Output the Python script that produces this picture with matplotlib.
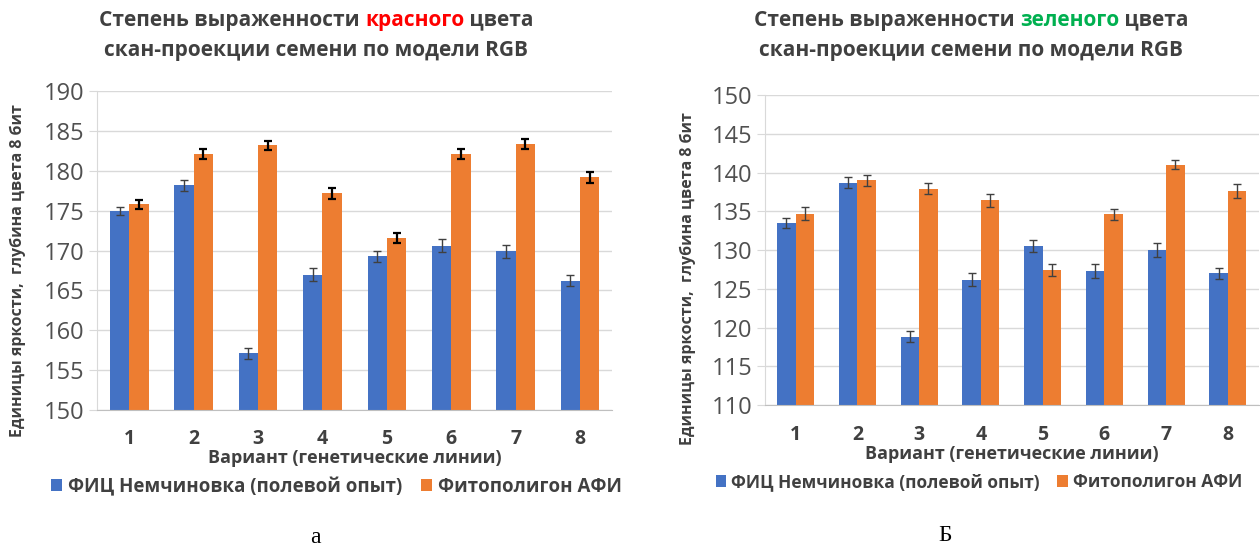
import numpy as np
import matplotlib
matplotlib.use("Agg")
import matplotlib.pyplot as plt
from matplotlib.offsetbox import TextArea, HPacker, AnchoredOffsetbox

plt.rcParams['font.family'] = ['Open Sans', 'DejaVu Sans']

# данные
variants = ['1', '2', '3', '4', '5', '6', '7', '8']
series_names = ['ФИЦ Немчиновка (полевой опыт)', 'Фитополигон АФИ']

red_field = [175.0, 178.2, 157.1, 167.0, 169.3, 170.6, 169.9, 166.2]
red_field_err = [0.5, 0.7, 0.7, 0.8, 0.7, 0.8, 0.8, 0.7]
red_afi = [175.8, 182.1, 183.2, 177.2, 171.6, 182.1, 183.4, 179.2]
red_afi_err = [0.6, 0.6, 0.6, 0.7, 0.6, 0.6, 0.6, 0.7]

green_field = [133.5, 138.7, 118.8, 126.2, 130.5, 127.3, 130.0, 127.0]
green_field_err = [0.7, 0.7, 0.7, 0.8, 0.8, 0.9, 0.9, 0.7]
green_afi = [134.7, 139.0, 137.9, 136.4, 127.4, 134.6, 141.0, 137.6]
green_afi_err = [0.8, 0.7, 0.7, 0.8, 0.8, 0.7, 0.6, 0.9]

BLUE = '#4472C4'
ORANGE = '#ED7D31'
TXT = '#404040'
TICK = '#505050'
GRID = '#D9D9D9'

fig = plt.figure(figsize=(12.6, 5.46), dpi=100)


def panel(rect, field, field_err, afi, afi_err, ylim, err_colors, err_lw):
    ax = fig.add_axes(rect)
    x = np.arange(len(variants))
    w = 0.3
    ax.bar(x - w / 2, field, w, color=BLUE, zorder=2)
    ax.bar(x + w / 2, afi, w, color=ORANGE, zorder=2)
    ax.errorbar(x - w / 2, field, yerr=field_err, fmt='none', ecolor=err_colors[0],
                elinewidth=err_lw[0], capsize=3, capthick=err_lw[0], zorder=3)
    ax.errorbar(x + w / 2, afi, yerr=afi_err, fmt='none', ecolor=err_colors[1],
                elinewidth=err_lw[1], capsize=3, capthick=err_lw[1], zorder=3)
    ax.set_xlim(-0.5, len(variants) - 0.5)
    ax.set_ylim(*ylim)
    ax.set_yticks(np.arange(ylim[0], ylim[1] + 1, 5))
    ax.set_xticks(x)
    ax.set_xticklabels(variants, fontsize=14, fontweight='bold', color=TXT)
    ax.tick_params(axis='x', length=0, pad=14)
    ax.tick_params(axis='y', length=6, color=GRID, labelsize=17, labelcolor=TICK, pad=3)
    ax.grid(axis='y', color=GRID, lw=1, zorder=0)
    for s in ['top', 'right']:
        ax.spines[s].set_visible(False)
    ax.spines['left'].set_color(GRID)
    ax.spines['bottom'].set_color('#BFBFBF')
    return ax


def title(cx, y, word, color):
    tp = dict(fontsize=15, fontweight='bold')
    parts = [TextArea('Степень выраженности ', textprops=dict(color=TXT, **tp)),
             TextArea(word, textprops=dict(color=color, **tp)),
             TextArea(' цвета', textprops=dict(color=TXT, **tp))]
    box = HPacker(children=parts, align='baseline', pad=0, sep=0)
    ab = AnchoredOffsetbox(loc='center', child=box, frameon=False, pad=0, borderpad=0,
                           bbox_to_anchor=(cx, y), bbox_transform=fig.transFigure)
    fig.add_artist(ab)
    fig.text(cx, y - 0.055, 'скан-проекции семени по модели RGB', ha='center', va='center',
             color=TXT, **tp)


ax1 = panel([0.077, 0.249, 0.409, 0.584], red_field, red_field_err, red_afi, red_afi_err,
            (150, 190), ('#404040', 'black'), (1.0, 1.6))
ax2 = panel([0.607, 0.258, 0.392, 0.568], green_field, green_field_err, green_afi, green_afi_err,
            (110, 150), ('#404040', '#404040'), (1.0, 1.0))

title(0.251, 0.963, 'красного', '#FF0000')
title(0.771, 0.963, 'зеленого', '#00B050')

for ax, lx, ly, lcx, ypos, lsize in [(ax1, 0.014, 0.505, 0.267, 0.108, 13.5),
                                     (ax2, 0.546, 0.49, 0.777, 0.117, 12.5)]:
    fig.text(lx, ly, 'Единицы яркости,  глубина цвета 8 бит', rotation=90, ha='center',
             va='center', fontsize=11.5, fontweight='bold', color=TXT)
    ax.set_xlabel('Вариант (генетические линии)', fontsize=13, fontweight='bold',
                  color=TXT, labelpad=0)
    h = ax.containers[:2]
    ax.legend(h, series_names, loc='center', ncol=2, frameon=False,
              bbox_to_anchor=(lcx, ypos),
              bbox_transform=fig.transFigure, handlelength=0.6,
              handleheight=0.6, handletextpad=0.3, columnspacing=1.0,
              prop=dict(weight='bold', size=lsize))
    for t in ax.get_legend().get_texts():
        t.set_color(TXT)

fig.text(0.25, 0.016, 'а', ha='center', va='center', fontsize=17, family='Liberation Serif')
fig.text(0.75, 0.02, 'Б', ha='center', va='center', fontsize=17, family='Liberation Serif')

fig.savefig('out.png', dpi=100)
